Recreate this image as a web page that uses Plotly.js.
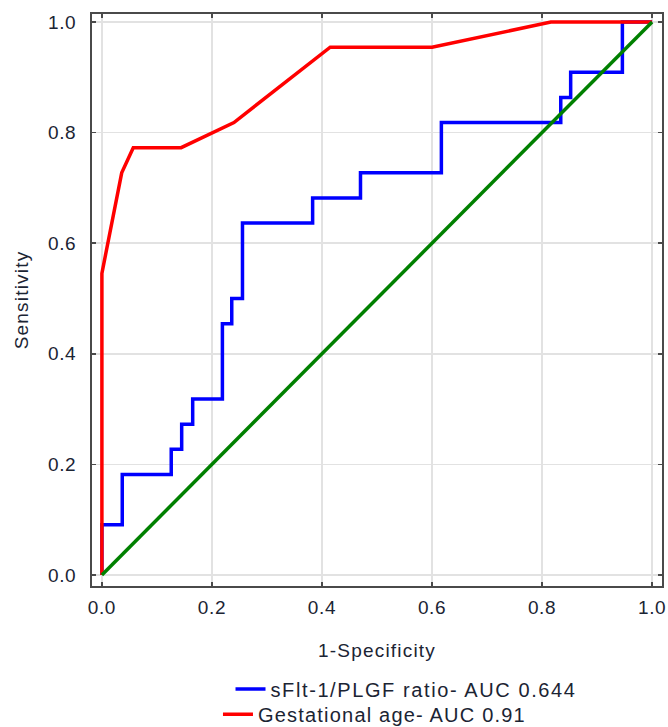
<!DOCTYPE html>
<html>
<head>
<meta charset="utf-8">
<script src="https://cdn.plot.ly/plotly-3.0.1.min.js"></script>
<style>
html, body { margin: 0; padding: 0; background: #ffffff; }
#chart { width: 668px; height: 727px; }
svg text { letter-spacing: 1.2px; }
svg g.xtick text, svg g.ytick text { letter-spacing: 0.6px; }
svg text.legendtext { letter-spacing: 1.6px; }
</style>
</head>
<body>
<div id="chart"></div>
<script>
// ROC curve points (1-Specificity, Sensitivity)
const ratioFpr = [0, 0.037, 0.126, 0.145, 0.165, 0.219, 0.236, 0.2555, 0.383, 0.470, 0.617, 0.834, 0.852, 0.946, 1.0];
const ratioTpr = [0, 0.0909, 0.1818, 0.2273, 0.2727, 0.3182, 0.4545, 0.5, 0.6364, 0.6818, 0.7273, 0.8182, 0.8636, 0.9091, 1.0];

const gaFpr = [0, 0, 0.036, 0.057, 0.144, 0.240, 0.415, 0.600, 0.816, 1.0];
const gaTpr = [0, 0.5455, 0.7273, 0.7727, 0.7727, 0.8182, 0.9545, 0.9545, 1.0, 1.0];

const refX = [0, 1];
const refY = [0, 1];

const seriesNames = ["sFlt-1/PLGF ratio- AUC 0.644", "Gestational age- AUC 0.91"];
const tickVals = [0, 0.2, 0.4, 0.6, 0.8, 1.0];
const tickText = ["0.0", "0.2", "0.4", "0.6", "0.8", "1.0"];

const FONT = "Liberation Sans, Arial, sans-serif";
const TXT = "#1b2433";

const traces = [
  { x: ratioFpr, y: ratioTpr, type: "scatter", mode: "lines", name: seriesNames[0],
    line: { color: "#0000ff", width: 3.5, shape: "vh" }, legend: "legend" },
  { x: gaFpr, y: gaTpr, type: "scatter", mode: "lines", name: seriesNames[1],
    line: { color: "#ff0000", width: 3.5 }, legend: "legend2" },
  { x: refX, y: refY, type: "scatter", mode: "lines", name: "reference",
    line: { color: "#008000", width: 3.5 }, showlegend: false }
];

const axisCommon = {
  tickvals: tickVals, ticktext: tickText,
  showgrid: true, gridcolor: "#e2e2e2", gridwidth: 1.5,
  zeroline: false,
  showline: true, linecolor: "#4a4a4a", linewidth: 2, mirror: "ticks",
  ticks: "inside", ticklen: 4, tickwidth: 1.5, tickcolor: "#4a4a4a",
  tickfont: { family: FONT, size: 19, color: TXT },
  ticklabeloverflow: "allow",
  automargin: false
};

const layout = {
  width: 668, height: 727,
  margin: { l: 92, r: 6, t: 14, b: 141, autoexpand: false },
  paper_bgcolor: "#ffffff", plot_bgcolor: "#ffffff",
  font: { family: FONT, size: 19, color: TXT },
  xaxis: Object.assign({}, axisCommon, {
    range: [-0.018, 1.018], ticklabelstandoff: 3,
    title: { text: "1-Specificity", font: { family: FONT, size: 19, color: TXT }, standoff: 27 }
  }),
  yaxis: Object.assign({}, axisCommon, {
    range: [-0.02, 1.0145], ticklabelstandoff: 10,
    title: { text: "Sensitivity", font: { family: FONT, size: 19, color: TXT }, standoff: 14 }
  }),
  showlegend: true,
  legend: { x: 0.243, xanchor: "left", y: -0.18, yanchor: "middle",
    font: { family: FONT, size: 20, color: TXT }, bgcolor: "rgba(0,0,0,0)", borderwidth: 0 },
  legend2: { x: 0.221, xanchor: "left", y: -0.224, yanchor: "middle",
    font: { family: FONT, size: 20, color: TXT }, bgcolor: "rgba(0,0,0,0)", borderwidth: 0 }
};

Plotly.newPlot("chart", traces, layout, { displayModeBar: false, staticPlot: true });
</script>
</body>
</html>
